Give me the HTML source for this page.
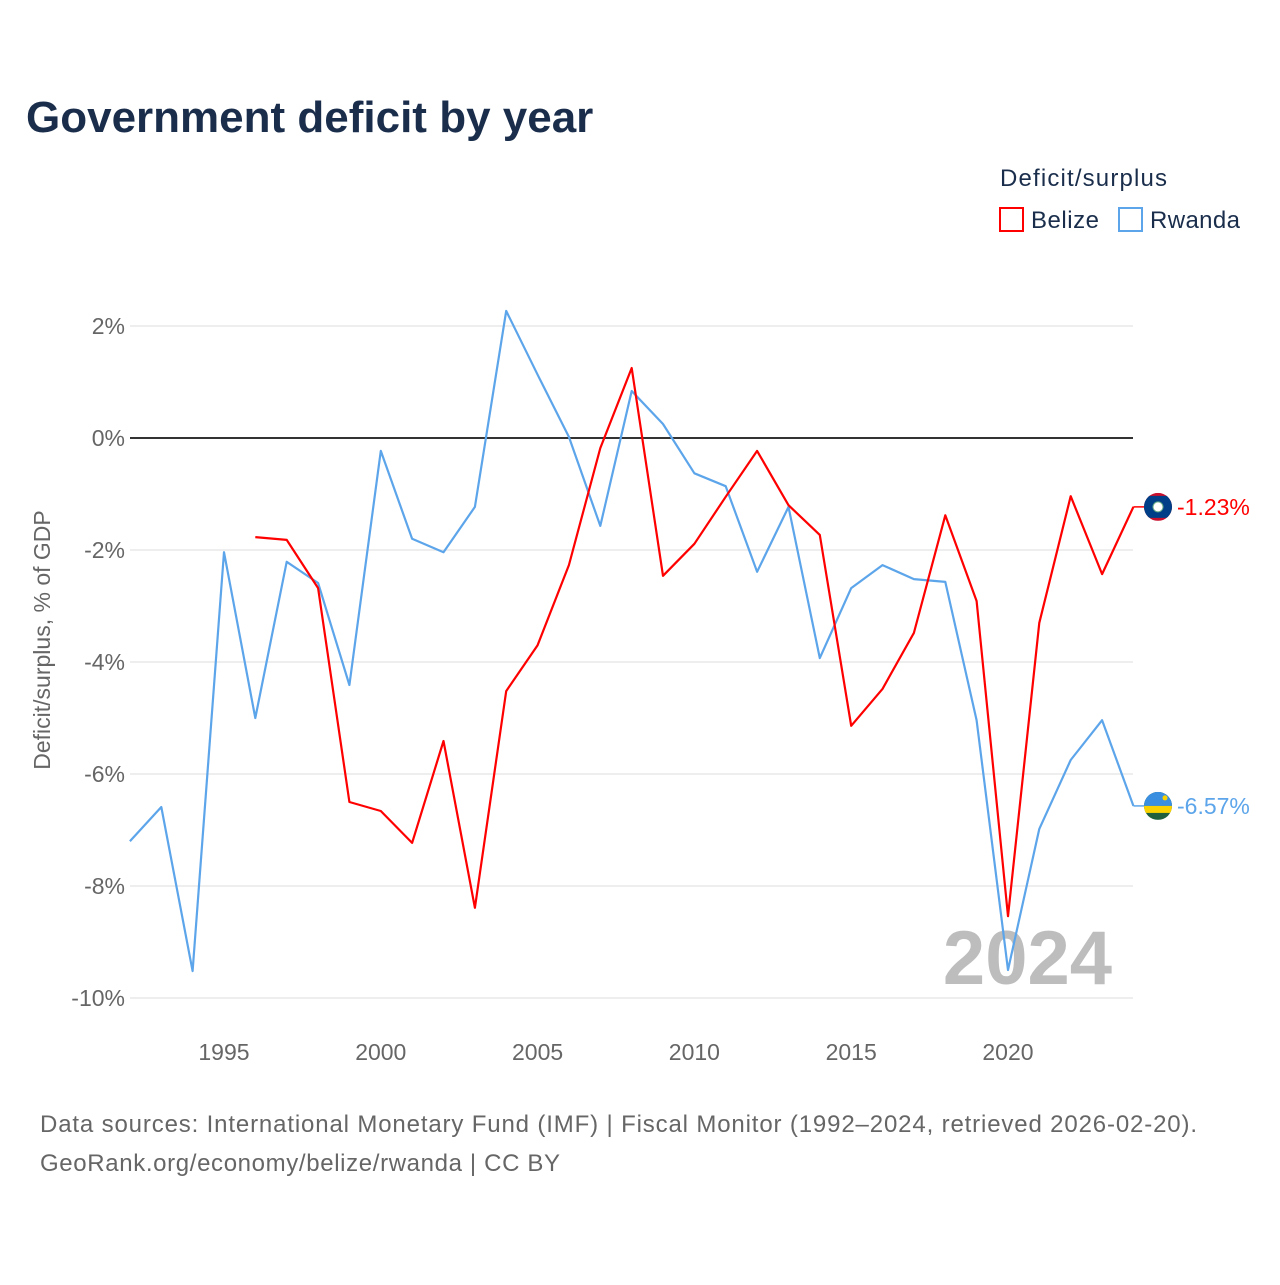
<!DOCTYPE html>
<html><head><meta charset="utf-8">
<style>
body{margin:0;background:#fff;font-family:"Liberation Sans",sans-serif;}
svg text{font-family:"Liberation Sans",sans-serif;}
</style></head>
<body>
<svg id="chart" width="1280" height="1280" viewBox="0 0 1280 1280">
<defs id="defs"></defs>
<text x="26" y="132" font-size="44" font-weight="bold" fill="#1a2e4c">Government deficit by year</text>
<text x="1000" y="186" font-size="24" fill="#1a2e4c" textLength="167">Deficit/surplus</text>
<g><rect x="1000" y="208" width="23" height="23" fill="none" stroke="#ff0000" stroke-width="2"/><text x="1031" y="228" font-size="24" fill="#1a2e4c" textLength="68">Belize</text></g>
<g><rect x="1119" y="208" width="23" height="23" fill="none" stroke="#5da5ea" stroke-width="2"/><text x="1150" y="228" font-size="24" fill="#1a2e4c" textLength="90">Rwanda</text></g>
<g id="grid"></g>
<g id="yticks"></g>
<g id="xticks"></g>
<text transform="translate(50,640) rotate(-90)" text-anchor="middle" font-size="23" fill="#666">Deficit/surplus, % of GDP</text>
<text x="1112" y="984" text-anchor="end" font-size="76" font-weight="bold" fill="#bdbdbd">2024</text>
<g id="series"></g>
<text x="40" y="1132" font-size="24" fill="#666" textLength="1157">Data sources: International Monetary Fund (IMF) | Fiscal Monitor (1992–2024, retrieved 2026-02-20).</text>
<text x="40" y="1171" font-size="24" fill="#666" textLength="520">GeoRank.org/economy/belize/rwanda | CC BY</text>
</svg>
<script>
const years=[];for(let y=1992;y<=2024;y++)years.push(y);
const rwanda=[-7.2,-6.59,-9.52,-2.04,-5.0,-2.21,-2.59,-4.41,-0.23,-1.8,-2.04,-1.23,2.27,1.13,0.02,-1.57,0.84,0.25,-0.63,-0.86,-2.39,-1.23,-3.93,-2.68,-2.27,-2.52,-2.57,-5.04,-9.5,-6.98,-5.75,-5.04,-6.57];
const belize=[null,null,null,null,-1.77,-1.82,-2.68,-6.5,-6.66,-7.23,-5.41,-8.39,-4.52,-3.7,-2.27,-0.18,1.25,-2.46,-1.89,-1.05,-0.23,-1.2,-1.73,-5.14,-4.48,-3.48,-1.38,-2.91,-8.54,-3.3,-1.04,-2.43,-1.23];
const yTicks=[2,0,-2,-4,-6,-8,-10];
const xTicks=[1995,2000,2005,2010,2015,2020];
const NS="http://www.w3.org/2000/svg";
const X=v=>129.9+(v-1992)*31.36;
const Y=v=>438-v*56;
function mk(t,a,p){const e=document.createElementNS(NS,t);for(const k in a)e.setAttribute(k,a[k]);p.appendChild(e);return e;}
const grid=document.getElementById('grid'),yt=document.getElementById('yticks'),xt=document.getElementById('xticks'),ser=document.getElementById('series'),defs=document.getElementById('defs');
yTicks.forEach(v=>{
 const l=mk('line',{x1:130,x2:1133,y1:Y(v),y2:Y(v),stroke:v===0?'#333':'#e8e8e8','stroke-width':v===0?2:1.5},grid);
 
 
 const t=mk('text',{x:125,y:Y(v)+8,'text-anchor':'end','font-size':23,fill:'#666'},yt);
 t.textContent=v+'%';
 
 
});
xTicks.forEach(v=>{
 const t=mk('text',{x:X(v),y:1060,'text-anchor':'middle','font-size':23,fill:'#666'},xt);
 t.textContent=v;
 
 
});
function line(vals,color,name,flag){
 let d='';vals.forEach((v,i)=>{if(v===null)return;d+=(d?'L':'M')+X(years[i]).toFixed(1)+','+Y(v).toFixed(1);});
 const p=mk('path',{d:d,fill:'none',stroke:color,'stroke-width':2.2,'stroke-linejoin':'round'},ser);
 
 
 const last=vals[vals.length-1];
 const cy=Y(last);
 mk('line',{x1:X(2024),x2:1144,y1:cy,y2:cy,stroke:color,'stroke-width':1.5},ser);
 const cp=mk('clipPath',{id:'clip-'+name},defs);
 mk('circle',{cx:1158,cy:cy,r:14},cp);
 const g=mk('g',{'clip-path':'url(#clip-'+name+')'},ser);
 
 
 if(flag==='bz'){
  mk('rect',{x:1144,y:cy-14,width:28,height:28,fill:'#c8102e'},g);
  mk('rect',{x:1144,y:cy-11,width:28,height:22,fill:'#003f87'},g);
  mk('circle',{cx:1158,cy:cy,r:5,fill:'#fff',stroke:'#6a8'},g);
 }else{
  mk('rect',{x:1144,y:cy-14,width:28,height:28,fill:'#20603d'},g);
  mk('rect',{x:1144,y:cy-14,width:28,height:14,fill:'#3a8fe0'},g);
  mk('rect',{x:1144,y:cy,width:28,height:7,fill:'#fad201'},g);
  mk('circle',{cx:1165,cy:cy-8,r:2.5,fill:'#fad201'},g);
 }
 const t=mk('text',{x:1177,y:cy+8,'font-size':23,fill:color},ser);
 t.textContent=last.toFixed(2)+'%';
 
 
}
line(rwanda,'#5da5ea','rwanda','rw');
line(belize,'#ff0000','belize','bz');
</script>
</body></html>
